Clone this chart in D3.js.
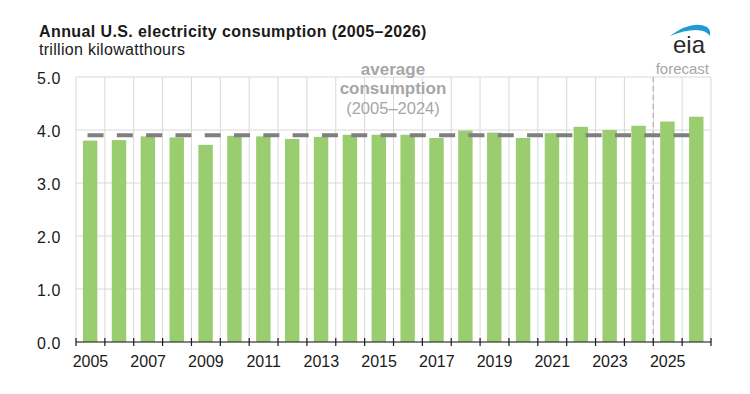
<!DOCTYPE html>
<html>
<head>
<meta charset="utf-8">
<script src="https://cdn.jsdelivr.net/npm/d3@7"></script>
<style>
body{margin:0;background:#fff;}
svg{font-family:"Liberation Sans",Arial,sans-serif;}
</style>
</head>
<body>
<svg id="chart" width="750" height="394"></svg>
<script>
// data
let years=["2005","2006","2007","2008","2009","2010","2011","2012","2013","2014","2015","2016","2017","2018","2019","2020","2021","2022","2023","2024","2025","2026"];
let consumption=[3.80,3.81,3.88,3.86,3.72,3.89,3.88,3.83,3.87,3.91,3.91,3.91,3.85,3.99,3.95,3.85,3.94,4.06,4.00,4.08,4.16,4.25];
let yTicks=[0,1,2,3,4,5];
let xLabels=["2005","2007","2009","2011","2013","2015","2017","2019","2021","2023","2025"];
let average=3.9;
let forecastStart="2025";

let svg=d3.select("#chart");
let padL=76,padR=711,padT=77,padB=342;

let x=d3.scaleBand().domain(years).range([padL,padR]).paddingInner(0).paddingOuter(0);
let y=d3.scaleLinear().domain([0,5]).range([padB,padT]);
let bw=x.bandwidth();

// title
svg.append("text").attr("x",39).attr("y",37).text("Annual U.S. electricity consumption (2005\u20132026)")
.style("font-weight","bold").style("font-size","16px").style("letter-spacing","0.4px").style("fill","#1a1a1a");
svg.append("text").attr("x",39).attr("y",54.5).text("trillion kilowatthours")
.style("font-size","16px").style("letter-spacing","0.3px").style("fill","#1a1a1a");

// eia logo
svg.append("path").attr("d","M670,36 Q692,20 707,27 Q711,30 710,36 Q706,30 696,30 Q684,30 670,36 Z").style("fill","#1e9ad6");
svg.append("text").attr("x",689).attr("y",53).attr("text-anchor","middle").text("eia")
.style("font-size","24px").style("fill","#2b2b2b");

// gridlines
svg.append("g").selectAll("line").data(yTicks).enter().append("line")
.attr("x1",padL).attr("x2",padR).attr("y1",d=>y(d)).attr("y2",d=>y(d))
.style("stroke","#d9d9d9").style("stroke-width",1);
let bounds=years.map(d=>x(d)).concat([padR]);
svg.append("g").selectAll("line").data(bounds).enter().append("line")
.attr("x1",d=>d).attr("x2",d=>d).attr("y1",padT).attr("y2",padB)
.style("stroke","#d9d9d9").style("stroke-width",1);

// annotation
let ax=393;
svg.append("text").attr("x",ax).attr("y",75).attr("text-anchor","middle").text("average")
.style("font-weight","bold").style("font-size","17px").style("fill","#a6a6a6");
svg.append("text").attr("x",ax).attr("y",94).attr("text-anchor","middle").text("consumption")
.style("font-weight","bold").style("font-size","17px").style("fill","#a6a6a6");
svg.append("text").attr("x",ax).attr("y",114).attr("text-anchor","middle").text("(2005\u20132024)")
.style("font-size","16.5px").style("fill","#a6a6a6");

// forecast
let fx=x(forecastStart);
svg.append("line").attr("x1",fx).attr("x2",fx).attr("y1",padT).attr("y2",padB)
.style("stroke","#b8aeb8").style("stroke-width",1.2).style("stroke-dasharray","5,4");
svg.append("text").attr("x",709).attr("y",74).attr("text-anchor","end").text("forecast")
.style("font-size","15px").style("fill","#a6a6a6");

// bars
svg.append("g").selectAll("rect").data(years).enter().append("rect")
.attr("x",d=>x(d)+bw*0.24).attr("width",bw*0.5)
.attr("y",(d,i)=>y(consumption[i])).attr("height",(d,i)=>padB-y(consumption[i]))
.style("fill","#9acd6f");

// average line
svg.append("line").attr("x1",x("2005")+bw*0.4).attr("x2",x("2026")+bw*0.25)
.attr("y1",y(average)).attr("y2",y(average))
.style("stroke","#7f7f7f").style("stroke-width",4).style("stroke-dasharray","16,13.3");

// y axis labels
svg.append("g").selectAll("text").data(yTicks).enter().append("text")
.attr("x",61).attr("y",d=>y(d)+7).attr("text-anchor","end").text(d=>d.toFixed(1))
.style("font-size","16px").style("letter-spacing","0.6px").style("fill","#1a1a1a");

// x axis
let xAxis=svg.append("g");
xAxis.append("line").attr("x1",padL).attr("x2",padR).attr("y1",padB).attr("y2",padB)
.style("stroke","#1a1a1a").style("stroke-width",1.2);
xAxis.selectAll(".tk").data(bounds).enter().append("line").attr("class","tk")
.attr("x1",d=>d).attr("x2",d=>d).attr("y1",padB-4).attr("y2",padB+4)
.style("stroke","#1a1a1a").style("stroke-width",1.2);
xAxis.selectAll("text").data(xLabels).enter().append("text")
.attr("x",d=>x(d)+bw/2).attr("y",padB+24.5).attr("text-anchor","middle").text(d=>d)
.style("font-size","16px").style("fill","#1a1a1a");
</script>
</body>
</html>
